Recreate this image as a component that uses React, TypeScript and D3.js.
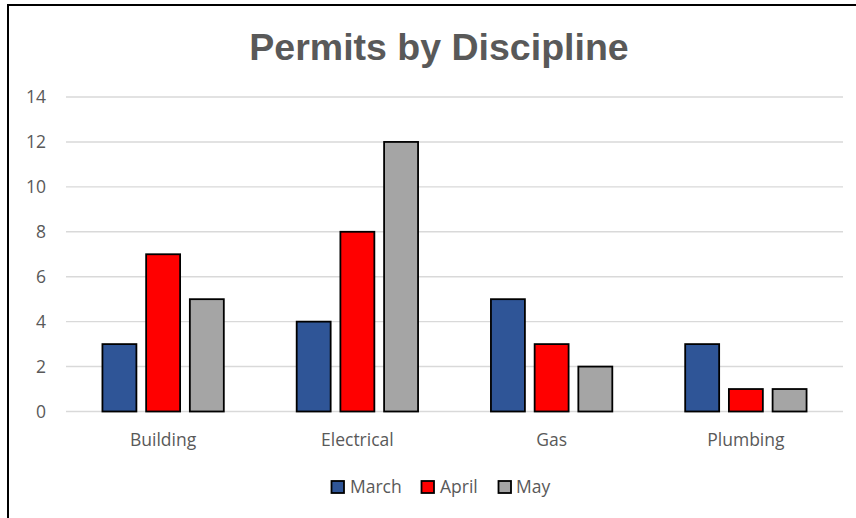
import React from "react";
import * as d3 from "d3";

const categories = ["Building", "Electrical", "Gas", "Plumbing"];
const seriesNames = ["March", "April", "May"];
const march = [3, 4, 5, 3];
const april = [7, 8, 3, 1];
const may = [5, 12, 2, 1];
const yTicks = [0, 2, 4, 6, 8, 10, 12, 14];
const colors = ["#2F5597", "#FF0000", "#A5A5A5"];

const W = 856;
const H = 518;

export default function App() {
  const seriesValues = [march, april, may];
  const x0 = d3.scaleBand<string>().domain(categories).range([66, 843]).padding(0);
  const bw0 = x0.bandwidth();
  const x1 = d3
    .scaleBand<string>()
    .domain(seriesNames)
    .range([bw0 * 0.185, bw0 * 0.815])
    .paddingInner(0.2)
    .paddingOuter(0);
  const y = d3.scaleLinear().domain([0, 14]).range([411.5, 97]);
  const textColor = "#595959";
  const font = "'Open Sans', sans-serif";

  const legendItems = [
    { name: "March", sx: 331, tx: 350 },
    { name: "April", sx: 421, tx: 440 },
    { name: "May", sx: 498, tx: 516 },
  ];

  return (
    <svg
      width={W}
      height={H}
      style={{ position: "absolute", left: 0, top: 0, background: "#fff" }}
    >
      <rect x={0} y={0} width={W} height={H} fill="#fff" />
      <path d={`M8,${H + 5} V5 H${W + 5}`} fill="none" stroke="#000" strokeWidth={2} />
      <text
        x={439}
        y={59.5}
        textAnchor="middle"
        fontFamily="'Liberation Sans', Arial, sans-serif"
        fontWeight="bold"
        fontSize={37.5}
        fill={textColor}
      >
        Permits by Discipline
      </text>
      {yTicks.map((t) => (
        <g key={t}>
          <line x1={66} x2={843} y1={y(t)} y2={y(t)} stroke="#D9D9D9" strokeWidth={1.4} />
          <text
            x={46}
            y={y(t) + 6.3}
            textAnchor="end"
            fontFamily={font}
            fontSize={17.5}
            fill={textColor}
          >
            {t}
          </text>
        </g>
      ))}
      {categories.map((c, ci) => (
        <g key={c} transform={`translate(${x0(c)},0)`}>
          {seriesNames.map((s, si) => {
            const v = seriesValues[si][ci];
            return (
              <rect
                key={s}
                x={(x1(s) as number) + 0.5}
                y={y(v)}
                width={x1.bandwidth() - 1}
                height={y(0) - y(v)}
                fill={colors[si]}
                stroke="#000"
                strokeWidth={1.8}
              />
            );
          })}
          <text
            x={bw0 / 2}
            y={445.5}
            textAnchor="middle"
            fontFamily={font}
            fontSize={17.5}
            fill={textColor}
          >
            {c}
          </text>
        </g>
      ))}
      {legendItems.map((it, i) => (
        <g key={it.name}>
          <rect
            x={it.sx + 0.5}
            y={481}
            width={12.5}
            height={12}
            fill={colors[i]}
            stroke="#000"
            strokeWidth={1.8}
          />
          <text x={it.tx} y={493} fontFamily={font} fontSize={17.5} fill={textColor}>
            {it.name}
          </text>
        </g>
      ))}
    </svg>
  );
}
